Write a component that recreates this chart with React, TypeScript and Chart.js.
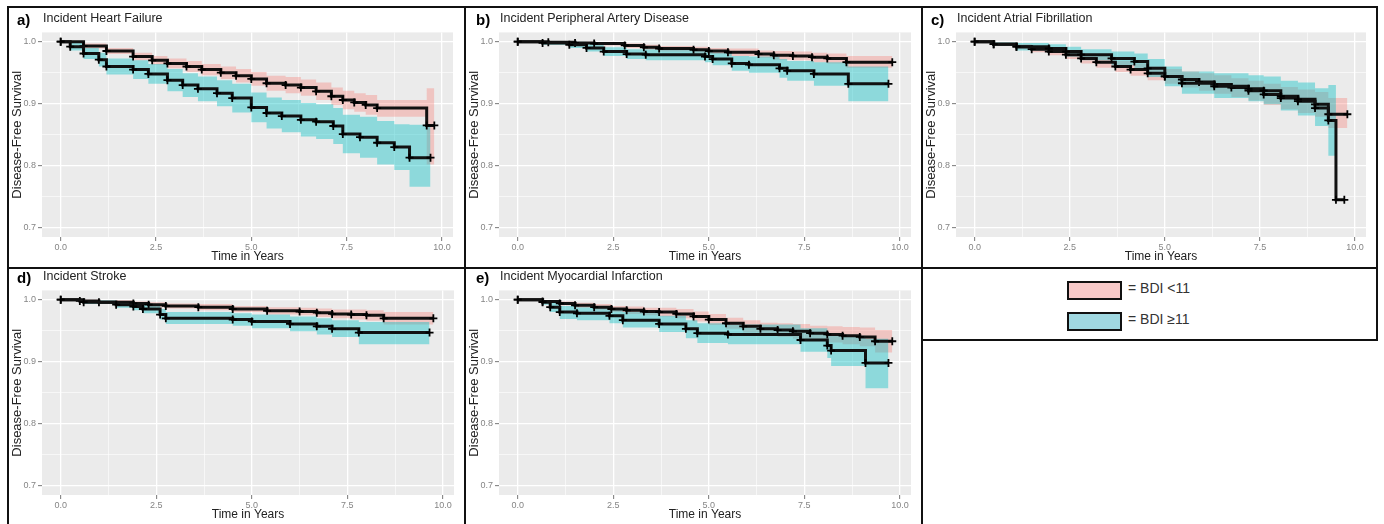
import React, { useEffect, useRef } from 'react';
import { Chart, registerables } from 'chart.js';
Chart.register(...registerables);

// ---------- a) Incident Heart Failure ----------
const hfLowT = [0, 0.6, 1.2, 1.9, 2.4, 2.8, 3.3, 3.7, 4.2, 4.6, 5.0, 5.4, 5.9, 6.3, 6.7, 7.1, 7.4, 7.7, 8.0, 8.3, 9.6, 9.8];
const hfLowS = [1.0, 0.993, 0.985, 0.976, 0.97, 0.965, 0.96, 0.955, 0.95, 0.945, 0.94, 0.933, 0.93, 0.926, 0.92, 0.912, 0.906, 0.902, 0.898, 0.893, 0.865, 0.865];
const hfLowL = [1.0, 0.989, 0.98, 0.97, 0.963, 0.957, 0.951, 0.946, 0.94, 0.934, 0.929, 0.921, 0.917, 0.913, 0.906, 0.898, 0.891, 0.887, 0.882, 0.879, 0.802, 0.802];
const hfLowU = [1.0, 0.997, 0.99, 0.982, 0.977, 0.973, 0.969, 0.964, 0.96, 0.956, 0.951, 0.945, 0.943, 0.939, 0.934, 0.926, 0.921, 0.917, 0.914, 0.906, 0.925, 0.925];
const hfHighT = [0, 0.25, 0.6, 1.0, 1.2, 1.9, 2.3, 2.8, 3.2, 3.6, 4.1, 4.5, 5.0, 5.4, 5.8, 6.3, 6.7, 7.15, 7.4, 7.85, 8.3, 8.75, 9.15, 9.7];
const hfHighS = [1.0, 0.992, 0.981, 0.971, 0.96, 0.955, 0.948, 0.938, 0.93, 0.924, 0.917, 0.909, 0.894, 0.885, 0.88, 0.874, 0.871, 0.864, 0.851, 0.846, 0.837, 0.83, 0.813, 0.813];
const hfHighL = [1.0, 0.986, 0.972, 0.96, 0.947, 0.94, 0.932, 0.92, 0.911, 0.904, 0.896, 0.886, 0.87, 0.86, 0.854, 0.847, 0.843, 0.835, 0.82, 0.813, 0.802, 0.793, 0.766, 0.766];
const hfHighU = [1.0, 0.998, 0.99, 0.982, 0.973, 0.97, 0.964, 0.956, 0.949, 0.944, 0.938, 0.932, 0.918, 0.91, 0.906, 0.901, 0.899, 0.893, 0.882, 0.879, 0.872, 0.867, 0.866, 0.866];

// ---------- b) Incident Peripheral Artery Disease ----------
const padLowT = [0, 0.8, 1.5, 2.0, 2.8, 3.3, 3.7, 4.6, 5.0, 5.5, 6.3, 6.7, 7.2, 7.7, 8.1, 8.6, 9.8];
const padLowS = [1.0, 0.999, 0.998, 0.997, 0.994, 0.991, 0.989, 0.987, 0.985, 0.983, 0.98, 0.978, 0.977, 0.975, 0.973, 0.967, 0.967];
const padLowL = [1.0, 0.998, 0.996, 0.994, 0.99, 0.987, 0.984, 0.982, 0.98, 0.977, 0.974, 0.971, 0.97, 0.967, 0.965, 0.958, 0.958];
const padLowU = [1.0, 1.0, 1.0, 0.999, 0.997, 0.995, 0.993, 0.992, 0.99, 0.989, 0.986, 0.985, 0.984, 0.982, 0.981, 0.977, 0.977];
const padHighT = [0, 0.65, 1.35, 1.8, 2.25, 2.85, 3.35, 4.9, 5.1, 5.6, 6.05, 6.85, 7.05, 7.75, 8.65, 9.7];
const padHighS = [1.0, 0.998, 0.995, 0.99, 0.984, 0.98, 0.979, 0.976, 0.972, 0.965, 0.963, 0.957, 0.953, 0.948, 0.932, 0.932];
const padHighL = [1.0, 0.995, 0.99, 0.984, 0.977, 0.972, 0.97, 0.967, 0.962, 0.953, 0.95, 0.942, 0.937, 0.929, 0.904, 0.904];
const padHighU = [1.0, 1.0, 1.0, 0.996, 0.991, 0.988, 0.988, 0.985, 0.982, 0.977, 0.976, 0.972, 0.969, 0.967, 0.96, 0.96];

// ---------- c) Incident Atrial Fibrillation ----------
const afLowT = [0, 0.5, 1.1, 1.5, 1.95, 2.4, 2.8, 3.2, 3.7, 4.1, 4.55, 5.0, 5.45, 5.9, 6.3, 6.75, 7.2, 7.6, 8.05, 8.5, 8.95, 9.3, 9.8];
const afLowS = [1.0, 0.996, 0.992, 0.988, 0.984, 0.979, 0.973, 0.967, 0.96, 0.955, 0.949, 0.944, 0.939, 0.935, 0.931, 0.926, 0.921, 0.915, 0.909, 0.904, 0.899, 0.883, 0.883];
const afLowL = [1.0, 0.993, 0.988, 0.983, 0.978, 0.972, 0.965, 0.958, 0.951, 0.945, 0.938, 0.932, 0.926, 0.921, 0.916, 0.911, 0.905, 0.898, 0.891, 0.885, 0.879, 0.861, 0.861];
const afLowU = [1.0, 0.999, 0.996, 0.993, 0.99, 0.986, 0.981, 0.976, 0.969, 0.965, 0.96, 0.956, 0.952, 0.949, 0.946, 0.941, 0.937, 0.932, 0.927, 0.923, 0.919, 0.909, 0.909];
const afHighT = [0, 0.5, 1.1, 1.95, 2.4, 2.8, 3.6, 4.2, 4.55, 5.0, 5.45, 6.3, 7.2, 7.6, 8.05, 8.5, 8.95, 9.3, 9.5, 9.72];
const afHighS = [1.0, 0.996, 0.992, 0.989, 0.984, 0.979, 0.973, 0.968, 0.957, 0.944, 0.933, 0.928, 0.924, 0.921, 0.912, 0.907, 0.893, 0.873, 0.745, 0.745];
const afHighL = [1.0, 0.993, 0.986, 0.982, 0.976, 0.97, 0.962, 0.955, 0.943, 0.928, 0.916, 0.909, 0.904, 0.899, 0.889, 0.881, 0.864, 0.816, 0.816, null];
const afHighU = [1.0, 0.999, 0.998, 0.996, 0.992, 0.988, 0.984, 0.981, 0.972, 0.96, 0.952, 0.949, 0.946, 0.944, 0.937, 0.934, 0.925, 0.93, 0.93, null];

// ---------- d) Incident Stroke ----------
const stLowT = [0, 0.5, 1.0, 1.9, 2.3, 2.75, 3.6, 4.5, 5.4, 6.25, 6.7, 7.1, 7.6, 8.0, 8.45, 9.75];
const stLowS = [1.0, 0.998, 0.996, 0.994, 0.992, 0.99, 0.988, 0.985, 0.982, 0.981, 0.979, 0.977, 0.976, 0.975, 0.97, 0.97];
const stLowL = [1.0, 0.996, 0.994, 0.991, 0.988, 0.986, 0.983, 0.98, 0.976, 0.975, 0.972, 0.97, 0.968, 0.966, 0.96, 0.96];
const stLowU = [1.0, 1.0, 0.999, 0.997, 0.996, 0.994, 0.993, 0.99, 0.988, 0.987, 0.986, 0.984, 0.984, 0.983, 0.98, 0.98];
const stHighT = [0, 0.6, 1.45, 1.9, 2.15, 2.6, 2.75, 4.5, 5.0, 6.0, 6.7, 7.1, 7.8, 9.65];
const stHighS = [1.0, 0.996, 0.992, 0.989, 0.985, 0.976, 0.97, 0.968, 0.965, 0.961, 0.957, 0.953, 0.947, 0.947];
const stHighL = [1.0, 0.993, 0.987, 0.983, 0.978, 0.968, 0.961, 0.958, 0.954, 0.949, 0.944, 0.94, 0.928, 0.928];
const stHighU = [1.0, 0.999, 0.997, 0.995, 0.992, 0.985, 0.98, 0.978, 0.976, 0.973, 0.97, 0.967, 0.964, 0.964];

// ---------- e) Incident Myocardial Infarction ----------
const miLowT = [0, 0.65, 1.1, 1.5, 2.0, 2.45, 2.85, 3.3, 3.7, 4.15, 4.6, 5.0, 5.45, 5.9, 6.35, 6.8, 7.2, 7.65, 8.1, 8.5, 8.95, 9.35, 9.8];
const miLowS = [1.0, 0.997, 0.994, 0.991, 0.988, 0.985, 0.983, 0.981, 0.98, 0.977, 0.973, 0.968, 0.962, 0.957, 0.953, 0.951, 0.949, 0.946, 0.944, 0.942, 0.94, 0.933, 0.933];
const miLowL = [1.0, 0.995, 0.991, 0.987, 0.983, 0.98, 0.977, 0.975, 0.973, 0.97, 0.965, 0.959, 0.953, 0.947, 0.943, 0.94, 0.937, 0.934, 0.931, 0.928, 0.925, 0.915, 0.915];
const miLowU = [1.0, 0.999, 0.997, 0.995, 0.993, 0.99, 0.989, 0.987, 0.987, 0.985, 0.981, 0.977, 0.971, 0.967, 0.963, 0.962, 0.961, 0.958, 0.957, 0.956, 0.955, 0.951, 0.951];
const miHighT = [0, 0.65, 0.85, 1.1, 1.55, 2.4, 2.75, 3.7, 4.4, 4.7, 5.5, 7.4, 8.1, 8.2, 9.1, 9.7];
const miHighS = [1.0, 0.996, 0.988, 0.98, 0.978, 0.974, 0.967, 0.961, 0.953, 0.946, 0.944, 0.935, 0.926, 0.918, 0.898, 0.898];
const miHighL = [1.0, 0.992, 0.98, 0.969, 0.967, 0.962, 0.955, 0.948, 0.938, 0.93, 0.928, 0.916, 0.906, 0.893, 0.857, 0.857];
const miHighU = [1.0, 0.999, 0.995, 0.99, 0.988, 0.985, 0.98, 0.974, 0.967, 0.962, 0.96, 0.954, 0.946, 0.942, 0.937, 0.937];

// ---------- axes ----------
const X_TICKS = [0, 1.25, 2.5, 3.75, 5, 6.25, 7.5, 8.75, 10];
const Y_TICKS = [0.7, 0.75, 0.8, 0.85, 0.9, 0.95, 1.0];
const X_MIN = -0.49;
const X_MAX = 10.29;
const Y_MIN = 0.685;
const Y_MAX = 1.015;
const LEGEND_LABELS = ['= BDI <11', '= BDI \u226511'];

const FONT = "'Liberation Sans', Arial, sans-serif";
const RED_FILL = 'rgba(248,118,109,0.33)';
const BLUE_FILL = 'rgba(0,191,196,0.40)';

const PANELS = [
  { label: 'a)', title: 'Incident Heart Failure', L: 42, R: 453, T: 31, B: 237, labelX: 17, titleY: 21,
    low: [hfLowT, hfLowS, hfLowL, hfLowU], high: [hfHighT, hfHighS, hfHighL, hfHighU] },
  { label: 'b)', title: 'Incident Peripheral Artery Disease', L: 499, R: 911, T: 31, B: 237, labelX: 476, titleY: 21,
    low: [padLowT, padLowS, padLowL, padLowU], high: [padHighT, padHighS, padHighL, padHighU] },
  { label: 'c)', title: 'Incident Atrial Fibrillation', L: 956, R: 1366, T: 31, B: 237, labelX: 931, titleY: 21,
    low: [afLowT, afLowS, afLowL, afLowU], high: [afHighT, afHighS, afHighL, afHighU] },
  { label: 'd)', title: 'Incident Stroke', L: 42, R: 454, T: 289, B: 495, labelX: 17, titleY: 279,
    low: [stLowT, stLowS, stLowL, stLowU], high: [stHighT, stHighS, stHighL, stHighU] },
  { label: 'e)', title: 'Incident Myocardial Infarction', L: 499, R: 911, T: 289, B: 495, labelX: 476, titleY: 279,
    low: [miLowT, miLowS, miLowL, miLowU], high: [miHighT, miHighS, miHighL, miHighU] },
];

const PAD_T = 6;
const PAD_R = 14;
const Y_W = 36;
const X_H = 31;

const near = (a: number, b: number) => Math.abs(a - b) < 1e-6;
const isMajorX = (v: number) => near(v / 2.5, Math.round(v / 2.5));
const isMajorY = (v: number) => near(v * 10, Math.round(v * 10));
const pts = (T: number[], V: (number | null)[]) => T.map((t, i) => ({ x: t, y: V[i] }));

const bgPlugin = {
  id: 'panelBg',
  beforeDraw(chart: any) {
    const { ctx, chartArea } = chart;
    ctx.save();
    ctx.fillStyle = '#EBEBEB';
    ctx.fillRect(chartArea.left, chartArea.top, chartArea.right - chartArea.left, chartArea.bottom - chartArea.top);
    ctx.restore();
  },
};

function Panel({ p }: { p: any }) {
  const ref = useRef<HTMLCanvasElement>(null);
  const w = p.R - p.L + Y_W + PAD_R;
  const h = p.B - p.T + PAD_T + X_H;
  useEffect(() => {
    const [lT, lS, lL, lU] = p.low;
    const [hT, hS, hL, hU] = p.high;
    const band = (T: any, V: any, fill: any, color: string, order: number) => ({
      data: pts(T, V), stepped: true, borderWidth: 0, pointRadius: 0, fill, backgroundColor: color, order,
    });
    const curve = (T: any, V: any, order: number) => ({
      data: pts(T, V), stepped: true, borderColor: '#111', borderWidth: 3, fill: false,
      pointStyle: 'cross', pointRadius: 4, pointBorderWidth: 1.8, pointBorderColor: '#000', order,
    });
    const gridOpts = (major: (v: number) => boolean) => ({
      color: '#FFFFFF',
      lineWidth: (c: any) => (c.tick && major(c.tick.value) ? 1.3 : 0.6),
      drawTicks: true,
      tickLength: 4,
      tickWidth: 1,
      tickColor: (c: any) => (c.tick && major(c.tick.value) ? '#777' : 'rgba(0,0,0,0)'),
    });
    const chart = new Chart(ref.current as HTMLCanvasElement, {
      type: 'line',
      data: {
        datasets: [
          band(lT, lL, false, RED_FILL, 4),
          band(lT, lU, '-1', RED_FILL, 4),
          band(hT, hL, false, BLUE_FILL, 3),
          band(hT, hU, '-1', BLUE_FILL, 3),
          curve(lT, lS, 1),
          curve(hT, hS, 0),
        ] as any,
      },
      options: {
        animation: false,
        responsive: false,
        layout: { padding: { left: 0, top: PAD_T, right: PAD_R, bottom: 0 } },
        plugins: { legend: { display: false }, tooltip: { enabled: false }, title: { display: false } },
        scales: {
          x: {
            type: 'linear', min: X_MIN, max: X_MAX,
            afterBuildTicks: (s: any) => { s.ticks = X_TICKS.map((v) => ({ value: v })); },
            afterFit: (s: any) => { s.height = X_H; },
            grid: gridOpts(isMajorX) as any,
            border: { display: false },
            ticks: {
              autoSkip: false, maxRotation: 0, padding: 1, color: '#858585',
              font: { size: 9, family: FONT },
              callback: (v: any) => (isMajorX(Number(v)) ? Number(v).toFixed(1) : ''),
            },
            title: { display: true, text: 'Time in Years', color: '#222', font: { size: 12, family: FONT }, padding: { top: 0, bottom: 4 } },
          },
          y: {
            type: 'linear', min: Y_MIN, max: Y_MAX,
            afterBuildTicks: (s: any) => { s.ticks = Y_TICKS.map((v) => ({ value: v })); },
            afterFit: (s: any) => { s.width = Y_W; },
            grid: gridOpts(isMajorY) as any,
            border: { display: false },
            ticks: {
              autoSkip: false, padding: 2, color: '#858585',
              font: { size: 9, family: FONT },
              callback: (v: any) => (isMajorY(Number(v)) ? Number(v).toFixed(1) : ''),
            },
            title: { display: true, text: 'Disease-Free Survival', color: '#222', font: { size: 13, family: FONT }, padding: { top: 4, bottom: 0 } },
          },
        },
      } as any,
      plugins: [bgPlugin],
    });
    return () => chart.destroy();
  }, []);
  return (
    <>
      <canvas ref={ref} width={w} height={h}
        style={{ position: 'absolute', left: p.L - Y_W, top: p.T - PAD_T, width: w, height: h }} />
      <div style={{ position: 'absolute', left: p.labelX, top: p.titleY - 10, height: 20, lineHeight: '20px',
        font: `bold 15px ${FONT}`, color: '#000' }}>{p.label}</div>
      <div style={{ position: 'absolute', left: p.L + 1, top: p.titleY - 10, height: 20, lineHeight: '20px',
        font: `12.5px ${FONT}`, color: '#222' }}>{p.title}</div>
    </>
  );
}

const line = (left: number, top: number, width: number, height: number) => (
  <div style={{ position: 'absolute', left, top, width, height, background: '#111' }} />
);

export default function App() {
  return (
    <div style={{ position: 'absolute', left: 0, top: 0, width: 1384, height: 524, background: '#fff', overflow: 'hidden', fontFamily: FONT }}>
      {PANELS.map((p, i) => <Panel key={i} p={p} />)}
      {line(7, 6, 1371, 2)}
      {line(7, 267, 1371, 2)}
      {line(921, 339, 457, 2)}
      {line(7, 6, 2, 520)}
      {line(464, 6, 2, 520)}
      {line(921, 6, 2, 520)}
      {line(1376, 6, 2, 335)}
      <div style={{ position: 'absolute', left: 1067, top: 281, width: 51, height: 15, background: '#F7C9C8', border: '2px solid #111' }} />
      <div style={{ position: 'absolute', left: 1067, top: 312, width: 51, height: 15, background: '#A0D8E1', border: '2px solid #111' }} />
      <div style={{ position: 'absolute', left: 1128, top: 280, height: 20, lineHeight: '20px', font: `14px ${FONT}`, color: '#333' }}>{LEGEND_LABELS[0]}</div>
      <div style={{ position: 'absolute', left: 1128, top: 311, height: 20, lineHeight: '20px', font: `14px ${FONT}`, color: '#333' }}>{LEGEND_LABELS[1]}</div>
    </div>
  );
}
